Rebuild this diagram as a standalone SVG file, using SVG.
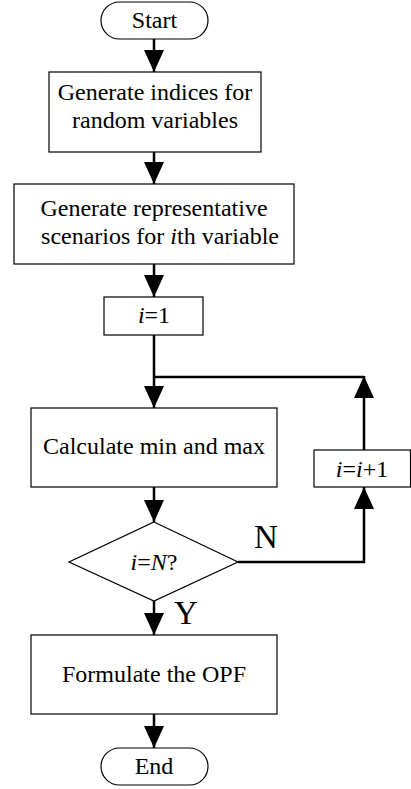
<svg xmlns="http://www.w3.org/2000/svg" width="411" height="789" viewBox="0 0 411 789">
<style>
.box{fill:#fff;stroke:#000;stroke-width:1.2}
.t{font-family:"Liberation Serif","Times New Roman",serif;font-size:24px;fill:#000;text-anchor:middle}
.lbl{font-family:"Liberation Serif","Times New Roman",serif;font-size:33px;fill:#000}
.c{fill:none;stroke:#000;stroke-width:2.5}
</style>
<defs>
<marker id="ah" viewBox="0 0 22 20" refX="22" refY="10" markerWidth="22" markerHeight="20" markerUnits="userSpaceOnUse" orient="auto">
<path d="M0,0 L22,10 L0,20 z" fill="#000"/>
</marker>
</defs>
<g id="connectors">
<line class="c" x1="154" y1="39" x2="154" y2="72" marker-end="url(#ah)"/>
<line class="c" x1="154" y1="152" x2="154" y2="184" marker-end="url(#ah)"/>
<line class="c" x1="154" y1="264" x2="154" y2="297" marker-end="url(#ah)"/>
<line class="c" x1="154" y1="335" x2="154" y2="408" marker-end="url(#ah)"/>
<line class="c" x1="154" y1="377" x2="364" y2="377"/>
<line class="c" x1="364" y1="450" x2="364" y2="376" marker-end="url(#ah)"/>
<line class="c" x1="154" y1="487" x2="154" y2="522" marker-end="url(#ah)"/>
<polyline class="c" points="238,562 364,562 364,487" marker-end="url(#ah)"/>
<line class="c" x1="154" y1="601" x2="154" y2="635" marker-end="url(#ah)"/>
<line class="c" x1="154" y1="714" x2="154" y2="748" marker-end="url(#ah)"/>
<text class="lbl" x="254" y="548">N</text>
<text class="lbl" x="174" y="624">Y</text>
</g>
<g id="start">
<rect class="box" x="101" y="2" width="107" height="37" rx="18.5"/>
<text class="t" x="154.5" y="28">Start</text>
</g>
<g id="gen-indices">
<rect class="box" x="49" y="72" width="212" height="80"/>
<text class="t" x="155" y="100">Generate indices for</text>
<text class="t" x="155" y="128">random variables</text>
</g>
<g id="gen-scenarios">
<rect class="box" x="14" y="184" width="280" height="80"/>
<text class="t" x="154" y="216">Generate representative</text>
<text class="t" x="160" y="244">scenarios for <tspan font-style="italic">i</tspan>th variable</text>
</g>
<g id="init">
<rect class="box" x="104" y="297" width="99" height="38"/>
<text class="t" x="154" y="323"><tspan font-style="italic">i</tspan>=1</text>
</g>
<g id="calc">
<rect class="box" x="31" y="408" width="246" height="79"/>
<text class="t" x="154" y="454">Calculate min and max</text>
</g>
<g id="incr">
<rect class="box" x="314" y="450" width="96.5" height="37"/>
<text class="t" x="362" y="477"><tspan font-style="italic">i</tspan>=<tspan font-style="italic">i</tspan>+1</text>
</g>
<g id="decision">
<polygon class="box" points="154,522 238,562 154,601 69,562"/>
<text class="t" x="154" y="570"><tspan font-style="italic">i</tspan>=<tspan font-style="italic">N</tspan>?</text>
</g>
<g id="formulate">
<rect class="box" x="31" y="635" width="246" height="79"/>
<text class="t" x="154" y="682">Formulate the OPF</text>
</g>
<g id="end">
<rect class="box" x="101" y="748" width="107" height="37" rx="18.5"/>
<text class="t" x="154" y="774">End</text>
</g>
</svg>
